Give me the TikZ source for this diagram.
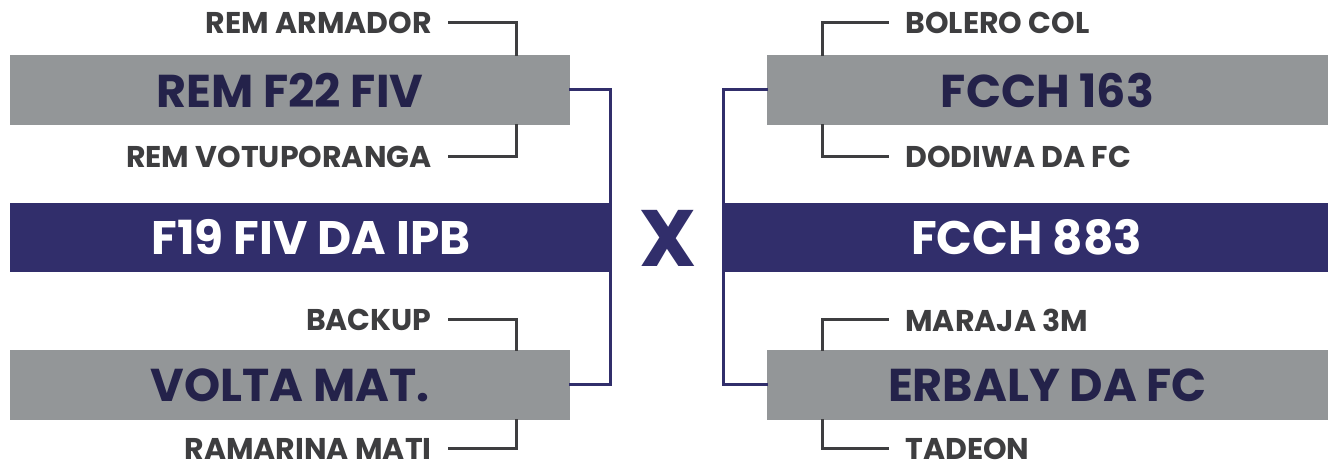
\documentclass[tikz,border=0pt]{standalone}
\usepackage{fontspec}
\setmainfont{Poppins}
\usetikzlibrary{positioning}
\definecolor{boxgrey}{HTML}{939698}
\definecolor{navy}{HTML}{312E6B}
\definecolor{inkdark}{HTML}{24224A}
\definecolor{labelgrey}{HTML}{3E3E40}

\begin{document}
\begin{tikzpicture}[x=0.5pt,y=-0.5pt,cap=rect,
    greybox/.style={fill=boxgrey,inner sep=0pt,minimum height=35pt,text=inkdark,font=\fontsize{23}{23}\bfseries\selectfont},
    navybox/.style={fill=navy,inner sep=0pt,minimum height=34.5pt,text=white,font=\fontsize{23.5}{23.5}\bfseries\selectfont},
    pickname/.style={inner sep=0pt,text=labelgrey,font=\fontsize{15}{15}\bfseries\selectfont},
    greyline/.style={draw=labelgrey,line width=1.5pt},
    navyline/.style={draw=navy,line width=1.5pt}]
            % frame of the picture
            \useasboundingbox (0,0) rectangle (1328,464);
            % columns of the small connectors
            \coordinate (jL) at (516,0);
            \coordinate (jR) at (822,0);

            %left side boxes
            \node[greybox,minimum width=280pt] (remF) at (290,90) {REM F22 FIV};
            \node[navybox,minimum width=301pt] (fivIPB) at (311,237.5) {F19 FIV DA IPB};
            \node[greybox,minimum width=280pt] (volta) at (290,385) {VOLTA MAT.};

            %right side boxes
            \node[greybox,minimum width=280.5pt] (fcchA) at (1047.5,90) {FCCH 163};
            \node[navybox,minimum width=301.5pt] (fcchB) at (1026.5,237.5) {FCCH 883};
            \node[greybox,minimum width=280.5pt] (erbaly) at (1047.5,385) {ERBALY DA FC};

            % the versus sign
            \node[text=navy,font=\fontsize{40}{40}\bfseries\selectfont] (versus) at (668,238) {X};

            %names on the left
            \node[pickname,anchor=east] (armador) at (432,23) {REM ARMADOR};
            \node[pickname,anchor=east] (votupo) at (432,157) {REM VOTUPORANGA};
            \node[pickname,anchor=east] (backup) at (432,320) {BACKUP};
            \node[pickname,anchor=east] (ramarina) at (432,449) {RAMARINA MATI};

            %names on the right
            \node[pickname,anchor=west] (bolero) at (905,23) {BOLERO COL};
            \node[pickname,anchor=west] (dodiwa) at (905,157) {DODIWA DA FC};
            \node[pickname,anchor=west] (maraja) at (905,320) {MARAJA 3M};
            \node[pickname,anchor=west] (tadeon) at (905,449) {TADEON};

            %left connectors
            \draw[greyline] ([xshift=8.5pt]armador.east) -| (remF.north -| jL);
            \draw[greyline] ([xshift=8.5pt]votupo.east) -| (remF.south -| jL);
            \draw[greyline] ([xshift=8.5pt]backup.east) -| (volta.north -| jL);
            \draw[greyline] ([xshift=8.5pt]ramarina.east) -| (volta.south -| jL);
            \draw[navyline] (remF.east) -- ++(40,0) |- (volta.east);

            %right connectors
            \draw[greyline] ([xshift=-9pt]bolero.west) -| (fcchA.north -| jR);
            \draw[greyline] ([xshift=-9pt]dodiwa.west) -| (fcchA.south -| jR);
            \draw[greyline] ([xshift=-9pt]maraja.west) -| (erbaly.north -| jR);
            \draw[greyline] ([xshift=-9pt]tadeon.west) -| (erbaly.south -| jR);
            \draw[navyline] (fcchA.west) -- ++(-43,0) |- (erbaly.west);
\end{tikzpicture}
\end{document}
